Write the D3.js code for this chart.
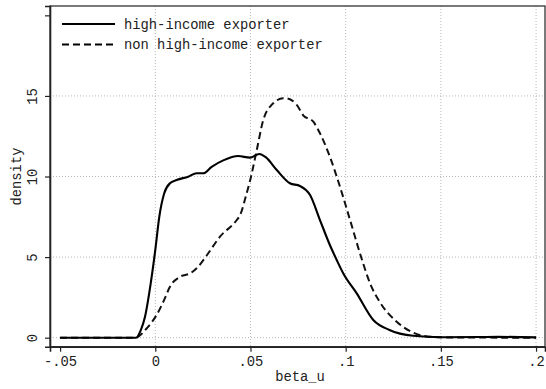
<!DOCTYPE html>
<html>
<head>
<meta charset="utf-8">
<script src="https://cdn.jsdelivr.net/npm/d3@7"></script>
<style>
  html, body { margin: 0; padding: 0; background: #fff; }
  svg { display: block; }
  text { font-family: "Liberation Mono", "DejaVu Sans Mono", monospace; fill: #222; }
</style>
</head>
<body>
<svg id="chart" width="546" height="389"></svg>
<script>
// Kernel density estimates of beta_u by exporter group
const seriesNames = ["high-income exporter", "non high-income exporter"];

const highX = [-0.05, -0.02, -0.0101, -0.0075, -0.0054, -0.0024, 0, 0.0021, 0.0047, 0.0077, 0.0112,
  0.0173, 0.0217, 0.0252, 0.0296, 0.0357, 0.0436, 0.0497, 0.0546, 0.058, 0.0638, 0.0707, 0.076,
  0.0813, 0.0865, 0.0917, 0.0953, 0.0987, 0.1058, 0.1145, 0.123, 0.1355, 0.15, 0.17, 0.18, 0.2];
const highY = [0, 0, 0, 0.5, 1.3, 3.37, 5.44, 7.5, 8.96, 9.58, 9.78,
  9.99, 10.2, 10.2, 10.6, 11.0, 11.27, 11.17, 11.4, 11.2, 10.4, 9.58, 9.41,
  8.85, 7.3, 5.75, 4.82, 4.0, 2.75, 1.1, 0.48, 0.12, 0.03, 0.04, 0.05, 0.02];

const nonX = [-0.05, -0.0101, -0.0075, -0.0045, 0.0007, 0.0045, 0.0077, 0.013, 0.0185, 0.0225,
  0.027, 0.034, 0.0428, 0.0445, 0.048, 0.0497, 0.0533, 0.0567, 0.0611, 0.0672, 0.069, 0.0743,
  0.0777, 0.083, 0.0865, 0.0917, 0.097, 0.1023, 0.1084, 0.1128, 0.118, 0.1268, 0.1355, 0.1443,
  0.155, 0.2];
const nonY = [0, 0, 0.2, 0.58, 1.41, 2.3, 3.16, 3.78, 4.0, 4.4,
  5.1, 6.27, 7.3, 7.6, 8.96, 9.7, 11.64, 13.5, 14.44, 14.85, 14.85, 14.44,
  13.8, 13.4, 12.68, 11.23, 9.37, 7.3, 4.9, 3.37, 2.2, 0.99, 0.31, 0.06,
  0.01, 0];

const xTicks = [-0.05, 0, 0.05, 0.1, 0.15, 0.2];
const xTickLabels = ["-.05", "0", ".05", ".1", ".15", ".2"];
const xGrid = [0, 0.05, 0.1, 0.15, 0.2];
const yTicks = [0, 5, 10, 15, 20];
const yTickLabels = ["0", "5", "10", "15", ""];
const yGrid = [0, 5, 10, 15];

const svg = d3.select("#chart");
const plotLeft = 50, plotRight = 545, plotTop = 6, plotBottom = 346.7;

const x = d3.scaleLinear().domain([-0.0553, 0.2047]).range([plotLeft, plotRight]);
const y = d3.scaleLinear().domain([-0.56, 20.58]).range([plotBottom, plotTop]);

// grid
svg.append("g").selectAll("line").data(yGrid).join("line")
  .attr("x1", plotLeft).attr("x2", plotRight)
  .attr("y1", d => y(d)).attr("y2", d => y(d))
  .attr("stroke", "#b8b8b8").attr("stroke-width", 1).attr("stroke-dasharray", "1,2");
svg.append("g").selectAll("line").data(xGrid).join("line")
  .attr("x1", d => x(d)).attr("x2", d => x(d))
  .attr("y1", plotTop).attr("y2", plotBottom)
  .attr("stroke", "#b8b8b8").attr("stroke-width", 1).attr("stroke-dasharray", "1,2");

// plot frame
svg.append("rect")
  .attr("x", plotLeft).attr("y", plotTop).attr("width", plotRight - plotLeft).attr("height", plotBottom - plotTop)
  .attr("fill", "none").attr("stroke", "#222").attr("stroke-width", 1.2);

// axes
const xAxis = d3.axisBottom(x).tickValues(xTicks).tickSize(5).tickPadding(5)
  .tickFormat((d, i) => xTickLabels[i]);
const gx = svg.append("g").attr("transform", `translate(0,${plotBottom})`).call(xAxis);
gx.select(".domain").attr("stroke", "#222").attr("stroke-width", 1.6);
gx.selectAll(".tick line").attr("stroke", "#222").attr("stroke-width", 1.2);
gx.selectAll(".tick text").style("font-family", "Liberation Mono").style("font-size", "13.8px").attr("fill", "#333");

const yAxis = d3.axisLeft(y).tickValues(yTicks).tickSize(5).tickPadding(0)
  .tickFormat((d, i) => yTickLabels[i]);
const gy = svg.append("g").attr("transform", `translate(${plotLeft},0)`).call(yAxis);
gy.select(".domain").attr("stroke", "#222").attr("stroke-width", 1.6);
gy.selectAll(".tick line").attr("stroke", "#222").attr("stroke-width", 1.2);
gy.selectAll(".tick text")
  .style("font-family", "Liberation Mono").style("font-size", "13.8px").attr("fill", "#333")
  .attr("x", 0).attr("dy", null)
  .attr("text-anchor", "middle")
  .attr("transform", "translate(-13,0) rotate(-90)");

// axis titles
svg.append("text").attr("x", (x(0.05) + x(0.1)) / 2 + 2).attr("y", 381)
  .attr("text-anchor", "middle").style("font-size", "13.8px").attr("fill", "#333").text("beta_u");
svg.append("text").attr("transform", `translate(21,${y(10)}) rotate(-90)`)
  .attr("text-anchor", "middle").style("font-size", "13.8px").attr("fill", "#333").text("density");

// density curves
const line = d3.line().x(d => x(d[0])).y(d => y(d[1])).curve(d3.curveMonotoneX);
const highPts = highX.map((v, i) => [v, highY[i]]);
const nonPts = nonX.map((v, i) => [v, nonY[i]]);

svg.append("path").datum(nonPts).attr("d", line)
  .attr("fill", "none").attr("stroke", "#111").attr("stroke-width", 2)
  .attr("stroke-dasharray", "7,4");
svg.append("path").datum(highPts).attr("d", line)
  .attr("fill", "none").attr("stroke", "#000").attr("stroke-width", 2.1);

// legend
const legend = svg.append("g");
const styles = [null, "7,4"];
seriesNames.forEach((name, i) => {
  const ly = 24 + i * 20.5;
  legend.append("line").attr("x1", 62).attr("x2", 115).attr("y1", ly).attr("y2", ly)
    .attr("stroke", "#000").attr("stroke-width", 2)
    .attr("stroke-dasharray", styles[i]);
  legend.append("text").attr("x", 124).attr("y", ly + 4.5)
    .style("font-size", "13.8px").attr("fill", "#333").text(name);
});
</script>
</body>
</html>
